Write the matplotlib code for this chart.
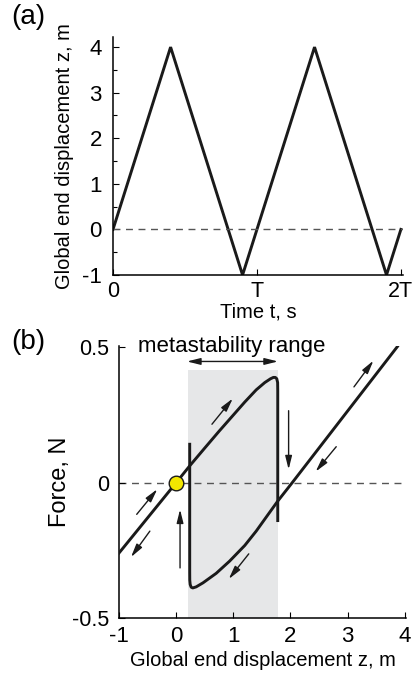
"""
Deux panneaux : consigne de déplacement en dents de scie (a) et boucle d'hystérésis force-déplacement (b).
"""

import matplotlib

matplotlib.use("Agg")
# pylint: disable=wrong-import-position
import matplotlib.pyplot as plt
from matplotlib.ticker import MultipleLocator

plt.rcParams["font.family"] = ["Liberation Sans", "DejaVu Sans"]
plt.rcParams["axes.unicode_minus"] = False

# (a) déplacement imposé en fonction du temps (t en unités de T)
time_t = [0.0, 0.4, 0.9, 1.4, 1.9, 2.0]
disp_z = [0.0, 4.0, -1.0, 4.0, -1.0, 0.0]
time_ticks = [0, 1, 2]
time_ticklabels = ["0", "T", "2T"]
disp_ticks = [-1, 0, 1, 2, 3, 4]

# (b) branche montante puis saut vers le bas
up_z = [-1.0, 0.0, 0.24, 0.5, 0.75, 1.0, 1.2, 1.4, 1.55, 1.65, 1.70, 1.735, 1.76, 1.775, 1.777, 1.777]
up_f = [-0.26, 0.0, 0.063, 0.128, 0.19, 0.25, 0.298, 0.343, 0.370, 0.384, 0.389, 0.389, 0.384, 0.37, 0.34, -0.14]
# branche descendante puis saut vers le haut
down_z = [3.87, 2.03, 1.777, 1.6, 1.4, 1.2, 0.934, 0.7, 0.47, 0.35, 0.29, 0.262, 0.245, 0.238, 0.237, 0.237]
down_f = [0.503, 0.0, -0.068, -0.12, -0.179, -0.232, -0.29, -0.335, -0.370, -0.385, -0.389, -0.386, -0.376, -0.36, -0.33, 0.142]
meta_lo, meta_hi, meta_top = 0.20, 1.78, 0.417
# flèches : (z départ, F départ, z arrivée, F arrivée)
arrows = [
    (-0.69, -0.117, -0.33, -0.024),
    (-0.46, -0.179, -0.79, -0.275),
    (0.068, -0.315, 0.068, -0.099),
    (0.626, 0.216, 0.99, 0.311),
    (1.967, 0.266, 1.967, 0.049),
    (1.27, -0.263, 0.92, -0.356),
    (3.11, 0.354, 3.45, 0.451),
    (2.80, 0.133, 2.44, 0.041),
]
force_ticks = [-0.5, 0, 0.5]
force_ticklabels = ["-0.5", "0", "0.5"]
zb_ticks = [-1, 0, 1, 2, 3, 4]

fig = plt.figure(figsize=(4.12, 6.74), dpi=100, facecolor="white")
ax_a = fig.add_axes([0.2743, 0.592, 0.704, 0.353])
ax_b = fig.add_axes([0.2888, 0.0831, 0.6966, 0.4035])

for ax in (ax_a, ax_b):
    ax.spines["top"].set_visible(False)
    ax.spines["right"].set_visible(False)
    for side in ("left", "bottom"):
        ax.spines[side].set_linewidth(1.1)
    ax.tick_params(direction="in", length=4, width=0.8)

# ---- panneau (a)
ax_a.plot(time_t, disp_z, color="#1a1a1a", linewidth=2.1, solid_joinstyle="miter")
ax_a.axhline(0, color="#555555", linewidth=1.0, dashes=(5, 4))
ax_a.set_xlim(0, 2.015)
ax_a.set_ylim(-1, 4.22)
ax_a.set_xticks(time_ticks)
ax_a.set_xticklabels(time_ticklabels, fontsize=15.5)
ax_a.set_yticks(disp_ticks)
ax_a.set_yticklabels([str(v) for v in disp_ticks], fontsize=16)
ax_a.yaxis.set_minor_locator(MultipleLocator(0.5))
ax_a.tick_params(axis="y", which="minor", direction="in", length=3, width=0.8)
ax_a.tick_params(axis="y", pad=8)
ax_a.tick_params(axis="x", pad=4)
ax_a.set_xlabel("Time t, s", fontsize=14.5, labelpad=1)
ax_a.set_ylabel("Global end displacement z, m", fontsize=14.5, labelpad=6)

# ---- panneau (b)
ax_b.axvspan(meta_lo, meta_hi, ymin=0, ymax=(meta_top + 0.5) / 1.005,
             facecolor="#e6e7e8", edgecolor="none", zorder=0)
ax_b.axhline(0, color="#555555", linewidth=1.0, dashes=(5, 4), zorder=1)
ax_b.plot(up_z, up_f, color="#1a1a1a", linewidth=2.1, zorder=3)
ax_b.plot(down_z, down_f, color="#1a1a1a", linewidth=2.1, zorder=3)
ax_b.plot([0], [0], "o", markersize=10.5, markerfacecolor="#f2e600",
          markeredgecolor="#1a1a1a", markeredgewidth=1.0, zorder=4)
for z0, f0, z1, f1 in arrows:
    ax_b.annotate("", xy=(z1, f1), xytext=(z0, f0),
                  arrowprops={"arrowstyle": "-|>,head_length=0.8,head_width=0.2",
                              "color": "#1a1a1a", "lw": 1.0,
                              "shrinkA": 0, "shrinkB": 0})
ax_b.annotate("", xy=(meta_lo - 0.01, 0.448), xytext=(meta_hi, 0.448),
              arrowprops={"arrowstyle": "<|-|>,head_length=0.8,head_width=0.2",
                          "color": "#1a1a1a", "lw": 1.0,
                          "shrinkA": 0, "shrinkB": 0})
ax_b.text(0.98, 0.503, "metastability range", fontsize=16,
          ha="center", va="center")
ax_b.set_xlim(-1, 4.02)
ax_b.set_ylim(-0.5, 0.505)
ax_b.set_xticks(zb_ticks)
ax_b.set_xticklabels([str(v) for v in zb_ticks], fontsize=16)
ax_b.set_yticks(force_ticks)
ax_b.set_yticklabels(force_ticklabels, fontsize=15.5)
ax_b.tick_params(axis="y", pad=7)
ax_b.tick_params(axis="x", pad=6)
ax_b.set_xlabel("Global end displacement z, m", fontsize=14.5, labelpad=3)
ax_b.set_ylabel("Force, N", fontsize=17, labelpad=1)

fig.text(0.028, 0.994, "(a)", fontsize=20, ha="left", va="top")
fig.text(0.028, 0.512, "(b)", fontsize=20, ha="left", va="top")

fig.savefig("out.png", dpi=100, facecolor=fig.get_facecolor())
plt.close(fig)
